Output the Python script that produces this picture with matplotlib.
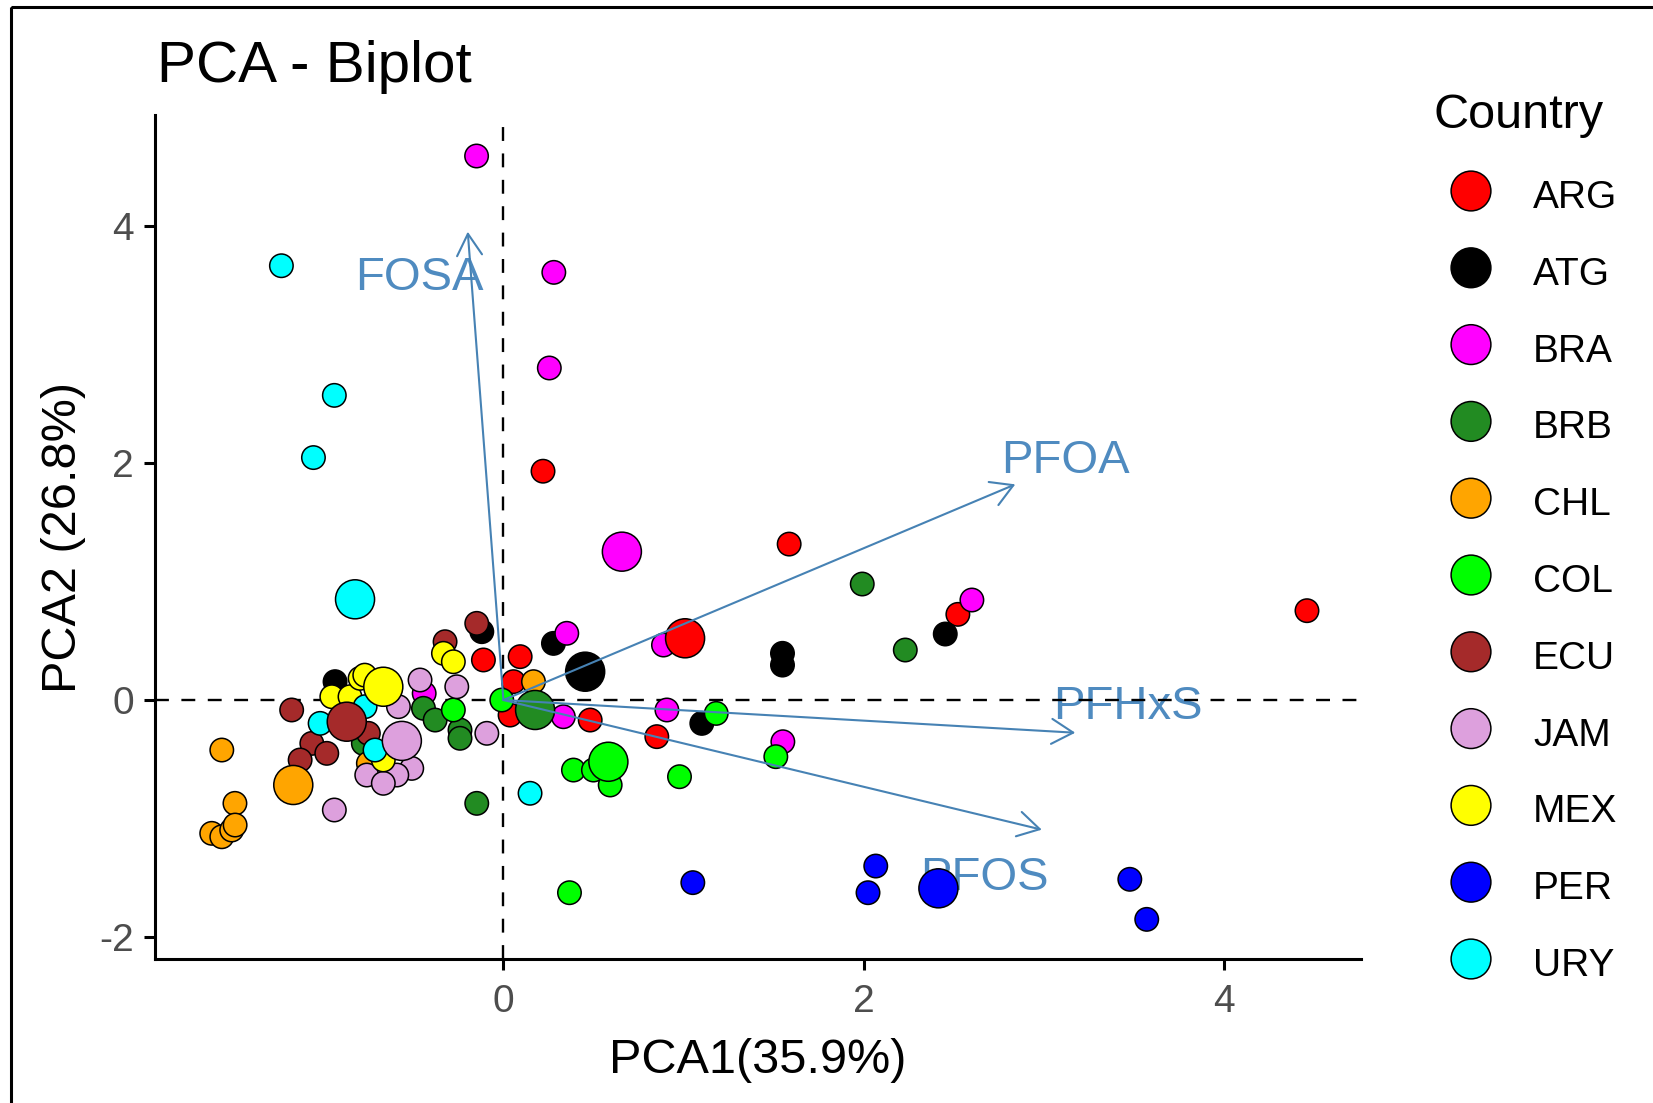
import matplotlib
matplotlib.use("Agg")
import matplotlib.pyplot as plt
from matplotlib.patches import Rectangle

plt.rcParams['font.family'] = ['Liberation Sans', 'DejaVu Sans']
plt.rcParams['lines.scale_dashes'] = False
plt.rcParams['axes.unicode_minus'] = False

# ---- data -------------------------------------------------------------
countries = ["ARG", "ATG", "BRA", "BRB", "CHL", "COL", "ECU", "JAM", "MEX", "PER", "URY"]
colors = ["#FF0000", "#000000", "#FF00FF", "#228B22", "#FFA500", "#00FF00",
          "#A52A2A", "#DDA0DD", "#FFFF00", "#0000FF", "#00FFFF"]

sample_country = (["ARG"] * 10 + ["ATG"] * 7 + ["BRA"] * 10 + ["BRB"] * 8 + ["CHL"] * 8
                  + ["COL"] * 9 + ["ECU"] * 7 + ["JAM"] * 9 + ["MEX"] * 7 + ["PER"] * 5
                  + ["URY"] * 7)
sample_pc1 = [
    -0.111, 0.093, 0.056, 0.037, 0.482, 0.852, 1.587, 2.524, 4.463, 0.220,      # ARG
    -0.935, -0.120, 0.278, 1.550, 1.550, 1.102, 2.454,                          # ATG
    -0.149, 0.280, 0.255, 0.352, -0.440, 0.333, 0.889, 0.908, 1.552, 2.602,     # BRA
    -0.444, -0.379, -0.241, -0.241, -0.778, -0.148, 1.993, 2.232,               # BRB
    0.167, -1.564, -1.491, -1.620, -1.564, -1.509, -1.490, -0.750,              # CHL
    -0.009, -0.278, 1.182, 1.513, 0.978, 0.389, 0.500, 0.593, 0.367,            # COL
    -0.148, -0.324, -1.176, -0.750, -1.064, -0.981, -1.129,                     # ECU
    -0.463, -0.259, -0.583, -0.092, -0.509, -0.759, -0.592, -0.667, -0.939,     # JAM
    -0.953, -0.852, -0.796, -0.770, -0.333, -0.278, -0.667,                     # MEX
    1.052, 2.068, 2.025, 3.479, 3.573,                                          # PER
    -1.233, -0.939, -1.055, -1.018, -0.768, -0.713, 0.148,                      # URY
]
sample_pc2 = [
    0.338, 0.366, 0.155, -0.127, -0.169, -0.309, 1.316, 0.723, 0.754, 1.931,
    0.155, 0.577, 0.478, 0.394, 0.295, -0.197, 0.557,
    4.591, 3.609, 2.802, 0.563, 0.056, -0.141, 0.464, -0.084, -0.352, 0.844,
    -0.070, -0.169, -0.253, -0.323, -0.366, -0.872, 0.979, 0.422,
    0.155, -0.422, -0.872, -1.125, -1.154, -1.097, -1.055, -0.534,
    0.000, -0.084, -0.113, -0.478, -0.647, -0.591, -0.591, -0.717, -1.626,
    0.647, 0.492, -0.084, -0.281, -0.366, -0.450, -0.506,
    0.169, 0.112, -0.056, -0.281, -0.577, -0.633, -0.633, -0.703, -0.928,
    0.028, 0.028, 0.183, 0.210, 0.394, 0.323, -0.506,
    -1.541, -1.401, -1.626, -1.513, -1.851,
    3.665, 2.571, 2.046, -0.197, -0.056, -0.422, -0.787,
]

# country means (big points), same order as countries
centroid_pc1 = [1.009, 0.454, 0.658, 0.176, -1.167, 0.583, -0.870, -0.564, -0.667, 2.416, -0.824]
centroid_pc2 = [0.521, 0.239, 1.252, -0.084, -0.717, -0.521, -0.183, -0.345, 0.112, -1.589, 0.850]

variables = ["FOSA", "PFOA", "PFHxS", "PFOS"]
load_pc1 = [-0.198, 2.843, 3.176, 2.990]
load_pc2 = [3.952, 1.820, -0.276, -1.094]
label_pc1 = [-0.468, 3.121, 3.467, 2.670]
label_pc2 = [3.460, 1.918, -0.160, -1.603]

# ---- figure -----------------------------------------------------------
W, H = 1653, 1103
fig = plt.figure(figsize=(W / 100, H / 100), dpi=100)

# full-figure overlay in pixel coords for frame + legend
lay = fig.add_axes([0, 0, 1, 1])
lay.set_xlim(0, W)
lay.set_ylim(H, 0)
lay.axis("off")
lay.add_patch(Rectangle((11, 7), W, H, fill=False, lw=2.2, ec="black"))

ax = fig.add_axes([155 / W, 1 - 959.3 / H, (1361 - 155) / W, (959.3 - 115) / H])
ax.set_xlim(-1.935, 4.763)
ax.set_ylim(-2.188, 4.937)

col_of = dict(zip(countries, colors))
ax.axhline(0, color="black", lw=1.7, ls=(0, (10, 9)), zorder=2)
ax.axvline(0, color="black", lw=1.7, ls=(0, (10, 9)), zorder=2)

ax.scatter(sample_pc1, sample_pc2, s=285, c=[col_of[c] for c in sample_country],
           edgecolors="black", linewidths=1.1, zorder=3)
ax.scatter(centroid_pc1, centroid_pc2, s=790, c=colors,
           edgecolors="black", linewidths=1.1, zorder=4)

for name, lx, ly, tx, ty in zip(variables, load_pc1, load_pc2, label_pc1, label_pc2):
    ax.annotate("", xy=(lx, ly), xytext=(0, 0),
                arrowprops=dict(arrowstyle="->,head_length=1.55,head_width=0.9",
                                color="steelblue", lw=1.5, shrinkA=0, shrinkB=0,
                                mutation_scale=10),
                zorder=5)
    ax.text(tx, ty, name, color="#4F8BC0", fontsize=34, ha="center",
            va="baseline", zorder=1)

for sp in ["top", "right"]:
    ax.spines[sp].set_visible(False)
for sp in ["left", "bottom"]:
    ax.spines[sp].set_linewidth(2.2)
ax.set_xticks([0, 2, 4])
ax.set_yticks([-2, 0, 2, 4])
ax.tick_params(length=8, width=2.2, pad=7, labelsize=28, labelcolor="#4D4D4D")
ax.tick_params(axis="x", pad=10)

fig.text(157 / W, 1 - 82 / H, "PCA - Biplot", fontsize=42, va="baseline", ha="left")
fig.text(758 / W, 1 - 1073 / H, "PCA1(35.9%)", fontsize=35, va="baseline", ha="center")
fig.text(64 / W, 1 - 537 / H, "PCA2 (26.8%)", fontsize=35, va="center", ha="center",
         rotation=90)

# legend
lay.text(1434, 128, "Country", fontsize=35, va="baseline", ha="left")
leg_y = [191 + 76.8 * i for i in range(len(countries))]
lay.scatter([1471] * len(countries), leg_y, s=820, c=colors,
            edgecolors="black", linewidths=1.1)
for name, yy in zip(countries, leg_y):
    lay.text(1533, yy + 7, name, fontsize=28, va="center", ha="left")

fig.savefig("out.png", dpi=100)
